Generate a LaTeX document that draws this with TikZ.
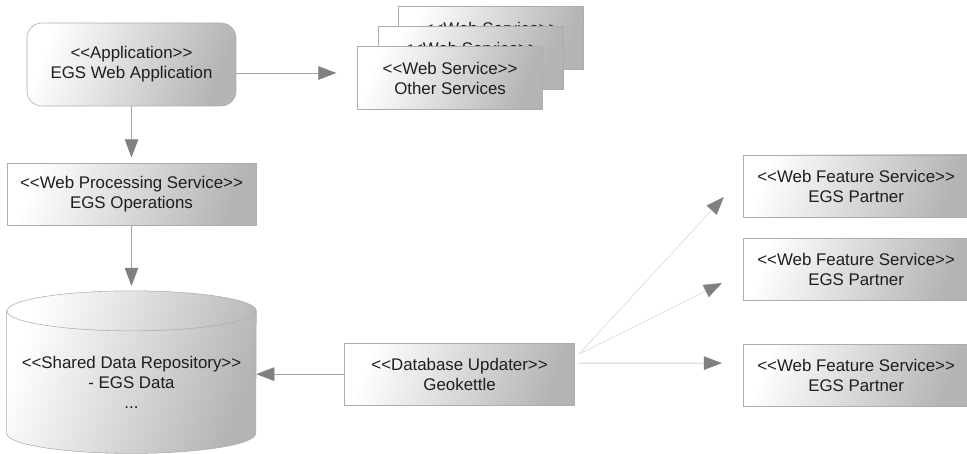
\documentclass[tikz,border=0pt]{standalone}
\usepackage{fontspec}
\setmainfont{Liberation Sans}[Ligatures=TeXOff]
\usetikzlibrary{positioning,arrows.meta,backgrounds,calc}
\definecolor{linegray}{HTML}{A4A4A4}
\definecolor{faintgray}{HTML}{D6D6D6}
\definecolor{tipgray}{HTML}{808080}
\definecolor{boxline}{HTML}{ADADAD}
\definecolor{shadedark}{HTML}{B4B4B4}
\definecolor{textgray}{HTML}{1E1E1E}

\begin{document}
\begin{tikzpicture}[
  font=\fontsize{12pt}{14.2pt}\selectfont,
  box/.style={draw=boxline, left color=white, right color=shadedark, shading angle=70,
              minimum width=4.625cm, minimum height=1.575cm, align=center, text=textgray},
  appbox/.style={box, rounded corners=0.375cm, minimum width=5.225cm, minimum height=2.075cm},
  widebox/.style={box, minimum width=6.225cm, minimum height=1.55cm},
  wfsbox/.style={box, minimum width=5.65cm, minimum height=1.55cm},
  drum/.style={draw=boxline, left color=white, right color=shadedark, shading angle=70},
  arr/.style={draw=linegray, -{Triangle[length=0.45cm, width=0.34cm, color=tipgray]}},
  farr/.style={arr, draw=faintgray}
]
\useasboundingbox (-3.2875,1.6125) rectangle (20.8875,-9.7375);
% Left column: application, processing, repository
\node[appbox] (app) {<<Application>>\\EGS Web Application};
\node[widebox, below=1.425cm of app] (wps) {<<Web Processing Service>>\\EGS Operations};
\node[align=center, text=textgray, minimum width=6.225cm, minimum height=3.55cm,
      below=2.125cm of wps] (repo) {<<Shared Data Repository>>\\- EGS Data\\...};
\draw[arr, shorten >=0.15cm] (app.south) -- (wps.north);
\draw[arr, shorten >=0.625cm] (wps.south) -- (repo.north);
% Stack of web services (back to front)
\node[box, right=4.05cm of app, yshift=0.6625cm] (svcc) {<<Web Service>>\\\phantom{Other Services}};
\node[box] (svcb) at ([shift={(-0.5125,-0.5)}]svcc) {<<Web Service>>\\\phantom{Other Services}};
\node[box] (svc) at ([shift={(-0.5125,-0.5)}]svcb) {<<Web Service>>\\Other Services};
\draw[arr, shorten >=0.525cm] ([yshift=-0.2125cm]app.east) -- ([yshift=-0.2125cm]app.east -| svc.west);
% Updater and partners
\node[box, minimum width=5.75cm, minimum height=1.55cm, right=2.2cm of repo, yshift=0.2cm] (dbu) {<<Database Updater>>\\Geokettle};
\node[wfsbox, right=4.2cm of dbu, yshift=-0.025cm] (wfsc) {<<Web Feature Service>>\\EGS Partner};
\node[wfsbox, above=1.075cm of wfsc] (wfsb) {<<Web Feature Service>>\\EGS Partner};
\node[wfsbox, above=0.525cm of wfsb] (wfsa) {<<Web Feature Service>>\\EGS Partner};
\coordinate (fan) at ([shift={(0.1cm,0.5cm)}]dbu.east);
\draw[arr] (dbu.west) -- (dbu.west -| repo.east);
\draw[farr] (fan) -- ([shift={(-0.475cm,-0.275cm)}]wfsa.west);
\draw[farr] (fan) -- ([shift={(-0.525cm,-0.3375cm)}]wfsb.west);
\draw[arr] ([shift={(0.1cm,0.275cm)}]dbu.east) -- ([shift={(-0.525cm,0.3cm)}]wfsc.west);
% Repository drum
\begin{scope}[on background layer]
  \path[drum] (repo.north west) -- ([yshift=0.5cm]repo.south west)
    arc[start angle=180, end angle=360, x radius=3.1125cm, y radius=0.5cm]
    -- (repo.north east)
    arc[start angle=0, end angle=180, x radius=3.1125cm, y radius=0.5cm] -- cycle;
  \draw[boxline] (repo.north west) arc[start angle=180, end angle=360, x radius=3.1125cm, y radius=0.5cm];
\end{scope}
\end{tikzpicture}
\end{document}
